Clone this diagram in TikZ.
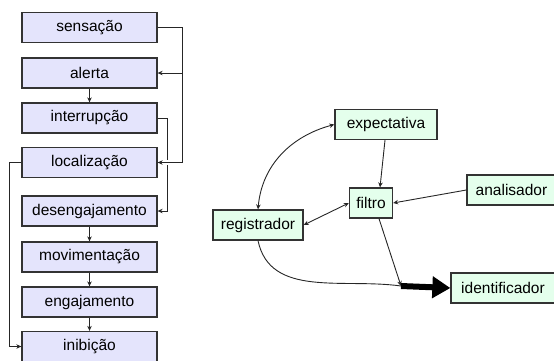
\documentclass[tikz,border=0pt]{standalone}
\usepackage{fontspec}
\setmainfont{Liberation Sans}
\usetikzlibrary{arrows.meta}

\definecolor{lav}{RGB}{228,228,252}
\definecolor{mint}{RGB}{228,255,236}

\begin{document}
\begin{tikzpicture}[x=1pt,y=1pt,>={Stealth[length=5pt,width=4.5pt]},
		box/.style = {draw=black!80,line width=1.3pt,minimum height=30pt,inner sep=0pt,font=\fontsize{15.5}{17}\selectfont},
		stage/.style = {box,fill=lav,minimum width=135pt},
		part/.style = {box,fill=mint},
		link/.style = {draw=black!85,line width=0.9pt,->}]
		\useasboundingbox (0,0) rectangle (554,-360);
		\node [stage] (sens) at (89.5,-27.5) {sensação};
		\node [stage] (alert) at (89.5,-73) {alerta};
		\node [stage] (intr) at (89.5,-118) {interrupção};
		\node [stage] (loc) at (89.5,-162.5) {localização};
		\node [stage] (deseng) at (89.5,-211) {desengajamento};
		\node [stage] (mov) at (89.5,-257) {movimentação};
		\node [stage] (eng) at (89.5,-302) {engajamento};
		\node [stage] (inib) at (89.5,-346.5) {inibição};
		\node [part, minimum width=102pt] (exp) at (386,-124.5) {expectativa};
		\node [part, minimum width=43pt] (filtro) at (371,-203) {filtro};
		\node [part, minimum width=89pt] (ana) at (511.5,-190) {analisador};
		\node [part, minimum width=90pt] (reg) at (258,-225) {registrador};
		\node [part, minimum width=104pt] (ident) at (503,-288) {identificador};
		\coordinate (jn) at (401,-286);
		\draw [link] (alert) -- (intr);
		\draw [link] (deseng) -- (mov);
		\draw [link] (mov) -- (eng);
		\draw [link] (eng) -- (inib);
		\draw [link] (intr.east) -- ++(10,0) |- (deseng.east);
		\draw [link,preaction={draw=white,line width=5pt,-,shorten >=8pt}] (sens.east) -- ++(25,0) |- (loc.east);
		\draw [link] (sens.east) -- ++(25,0) |- (alert.east);
		\draw [link] (loc.west) -- ++(-12,0) |- (inib.west);
		\draw [link,<->] (reg.north) to[out=85,in=195] (exp.west);
		\draw [link] ([xshift=-1pt]exp.south) -- ([xshift=9pt]filtro.north);
		\draw [link] (ana.west) -- (filtro.east);
		\draw [link,<->] (filtro.west) -- (reg.east);
		\draw [link] ([xshift=8pt]filtro.south) -- (jn);
		\draw [draw=black!85,line width=0.9pt] (reg.south) to[out=-78,in=172] (jn);
		\draw [line width=6pt,-{Triangle[length=18pt,width=21pt]}] (jn) -- (ident.west);
	\end{tikzpicture}
\end{document}
